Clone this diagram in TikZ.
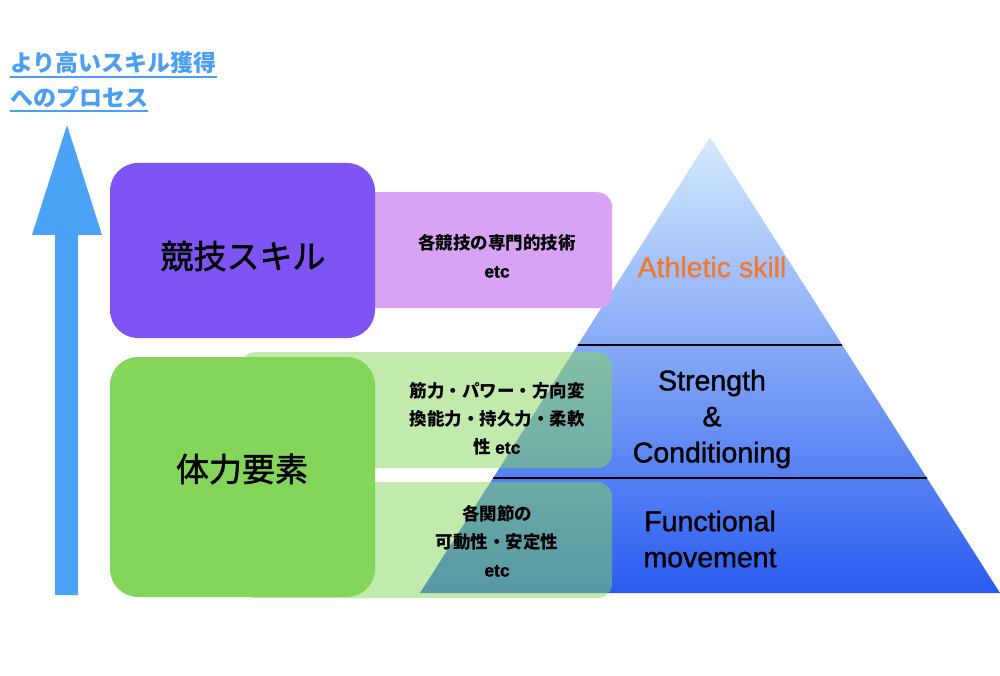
\documentclass[tikz,border=0pt]{standalone}
\usepackage{fontspec}
\setmainfont{Liberation Sans}
\newfontfamily\latm{Liberation Sans}[FakeBold=1.2]
\newfontfamily\cjk{Noto Sans CJK JP}
\newfontfamily\cjkm{Noto Sans CJK JP}[FakeBold=1.5]
\usetikzlibrary{calc}
\definecolor{arrowblue}{HTML}{4AA3F7}
\definecolor{titleblue}{HTML}{4A9FF5}
\definecolor{skillpurple}{HTML}{7F54F4}
\definecolor{lightpurple}{HTML}{D8A3F5}
\definecolor{fitgreen}{HTML}{84D65A}
\definecolor{athorange}{HTML}{F07A32}
\definecolor{tritop}{HTML}{D4EAFD}
\definecolor{tribot}{HTML}{2A5CF0}
\tikzset{
  bigbox/.style={rounded corners=28pt, inner sep=0pt, minimum width=265pt},
  bigtext/.style={text=black, inner sep=0pt, font=\cjkm\fontsize{33}{40}\selectfont},
  subbox/.style={rounded corners=15pt, inner sep=0pt, anchor=north west},
  smalltext/.style={align=center, text=black, font=\cjk\bfseries\fontsize{17.5}{28}\selectfont},
  pyrtext/.style={align=center, text=black, font=\latm\fontsize{28.5}{36}\selectfont},
  titletext/.style={anchor=west, inner sep=0pt, text=titleblue, font=\cjk\bfseries\fontsize{23}{28}\selectfont},
  uline/.style={titleblue, line width=2pt},
  tierline/.style={black, line width=2pt}
}
\newcommand{\etcw}{{\latm\fontsize{17.5}{28}\selectfont etc}}
\begin{document}
\begin{tikzpicture}[x=1pt,y=-1pt]
\useasboundingbox (0,0) rectangle (1000,676);

% title
\node[titletext] (t1) at (10,63) {より高いスキル獲得};
\node[titletext] (t2) at (10,97) {へのプロセス};
\draw[uline] ($(t1.south west)+(0,3)$) -- ($(t1.south east)+(0,3)$);
\draw[uline] ($(t2.south west)+(0,3)$) -- ($(t2.south east)+(0,3)$);

% arrow
\fill[arrowblue] (55,595) -- (55,235) -- (32,235) -- (67,125) -- (102,235) -- (78,235) -- (78,595) -- cycle;

% pyramid
\coordinate (apex) at (710,137);
\coordinate (bl) at (420,593);
\coordinate (br) at (1000,593);
\shade[top color=tritop, bottom color=tribot] (apex) -- (bl) -- (br) -- cycle;
\coordinate (l1) at ($(apex)!0.456!(bl)$);
\coordinate (r1) at ($(apex)!0.456!(br)$);
\coordinate (l2) at ($(apex)!0.748!(bl)$);
\coordinate (r2) at ($(apex)!0.748!(br)$);
\draw[tierline] (l1) -- (r1);
\draw[tierline] (l2) -- (r2);

% light boxes
\node[subbox, fill=lightpurple, minimum width=272pt, minimum height=116pt] (lp) at (340,192) {};
\node[subbox, fill=fitgreen, fill opacity=0.5, minimum width=372pt, minimum height=116pt] (lg1) at (240,352) {};
\node[subbox, fill=fitgreen, fill opacity=0.5, minimum width=372pt, minimum height=116pt] (lg2) at (240,482) {};

% main boxes
\node[bigbox, fill=skillpurple, minimum height=175pt] (skill) at (242.5,250.5) {};
\node[bigbox, fill=fitgreen, minimum height=240pt] (fit) at (242.5,477) {};
\node[bigtext] (skillt) at (243,256) {競技スキル};
\node[bigtext] (fitt) at (242,469) {体力要素};

% small texts
\node[smalltext] (lpt) at (497,256) {各競技の専門的技術\\\etcw};
\node[smalltext] (lg1t) at (497,419) {筋力・パワー・方向変\\換能力・持久力・柔軟\\性 \etcw};
\node[smalltext] (lg2t) at (497,541) {各関節の\\可動性・安定性\\\etcw};

% pyramid texts
\node[pyrtext, text=athorange] (ath) at (712,267) {Athletic skill};
\node[pyrtext] (sc) at (712,419) {Strength\\\&\\Conditioning};
\node[pyrtext] (fm) at (710,539) {Functional\\movement};
\end{tikzpicture}
\end{document}
